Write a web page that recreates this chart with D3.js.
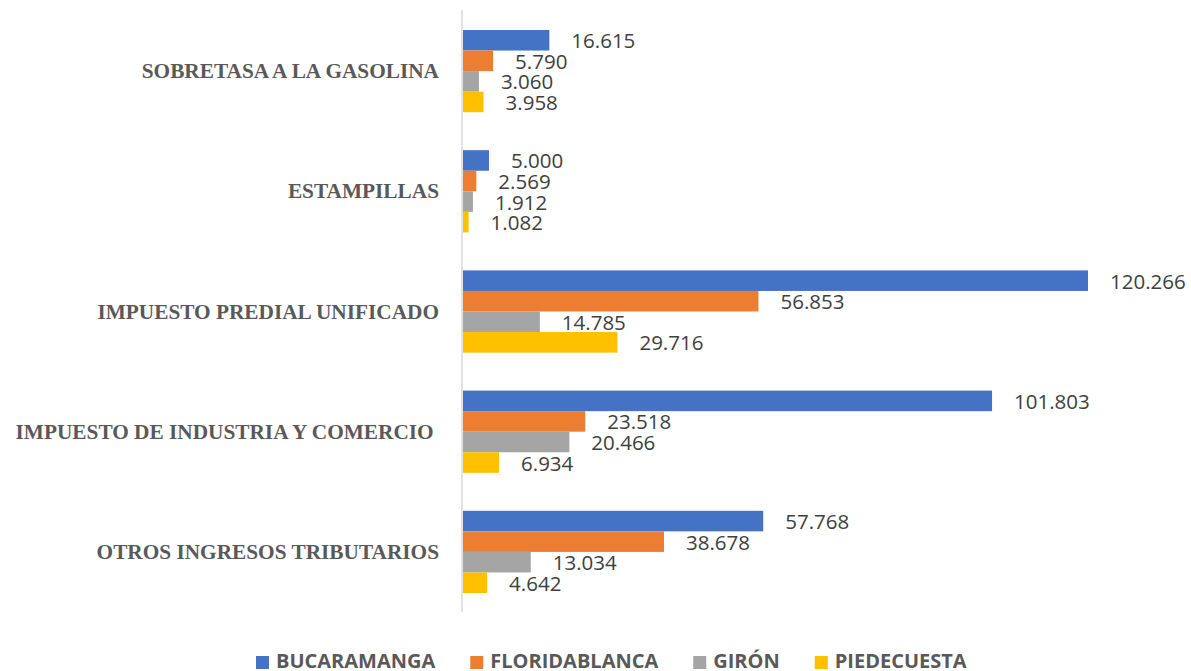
<!DOCTYPE html>
<html>
<head>
<meta charset="utf-8">
<script src="https://cdn.jsdelivr.net/npm/d3@7"></script>
<style>
  html, body { margin: 0; padding: 0; background: #ffffff; }
  svg { display: block; }
</style>
</head>
<body>
<svg id="chart" width="1191" height="671"></svg>
<script>
// ---- Data ----
const categories = [
  "SOBRETASA A LA GASOLINA",
  "ESTAMPILLAS",
  "IMPUESTO PREDIAL UNIFICADO",
  "IMPUESTO DE INDUSTRIA Y COMERCIO ",
  "OTROS INGRESOS TRIBUTARIOS"
];
const seriesNames = ["BUCARAMANGA", "FLORIDABLANCA", "GIRÓN", "PIEDECUESTA"];
const bucaramanga   = [16615, 5000, 120266, 101803, 57768];
const floridablanca = [5790, 2569, 56853, 23518, 38678];
const giron         = [3060, 1912, 14785, 20466, 13034];
const piedecuesta   = [3958, 1082, 29716, 6934, 4642];
const seriesValues = [bucaramanga, floridablanca, giron, piedecuesta];
const colors = ["#4472C4", "#ED7D31", "#A5A5A5", "#FFC000"];

// ---- Layout ----
const svg = d3.select("#chart");
const plotLeft = 463, plotTop = 11, plotBottom = 612;
const maxVal = d3.max(seriesValues.flat());

const x = d3.scaleLinear().domain([0, maxVal]).range([plotLeft, 1088]);
const y = d3.scaleBand().domain(categories).range([plotTop, plotBottom]).paddingInner(0.316).paddingOuter(0.158);
const ys = d3.scaleBand().domain(seriesNames).range([0, y.bandwidth()]);

const locale = d3.formatLocale({ decimal: ",", thousands: ".", grouping: [3], currency: ["$", ""] });
const fmt = locale.format(",d");

// ---- Bars ----
const groups = svg.selectAll("g.cat")
  .data(categories)
  .join("g")
  .attr("class", "cat")
  .attr("transform", d => `translate(0,${y(d)})`);

seriesNames.forEach((s, si) => {
  groups.append("rect")
    .attr("x", x(0))
    .attr("y", ys(s))
    .attr("width", (d, ci) => x(seriesValues[si][ci]) - x(0))
    .attr("height", ys.bandwidth())
    .attr("fill", colors[si]);

  groups.append("text")
    .attr("x", (d, ci) => x(seriesValues[si][ci]) + 22)
    .attr("y", ys(s) + ys.bandwidth() / 2 + 8)
    .attr("font-family", "'Open Sans', sans-serif")
    .attr("font-size", 20.5)
    .attr("fill", "#404040")
    .text((d, ci) => fmt(seriesValues[si][ci]));
});

// ---- Category labels ----
svg.append("g").selectAll("text")
  .data(categories)
  .join("text")
  .attr("x", 439)
  .attr("y", d => y(d) + y.bandwidth() / 2 + 7)
  .attr("text-anchor", "end")
  .style("white-space", "pre")
  .attr("font-family", "'Liberation Serif', 'Times New Roman', serif")
  .attr("font-weight", "bold")
  .attr("font-size", 21.3)
  .attr("fill", "#595959")
  .text(d => d);

// ---- Vertical axis line ----
svg.append("line")
  .attr("x1", x(0) - 1).attr("x2", x(0) - 1)
  .attr("y1", plotTop - 1).attr("y2", plotBottom)
  .attr("stroke", "#D9D9D9")
  .attr("stroke-width", 1.5);

// ---- Legend ----
const legend = svg.append("g");
let lx = 256;
const ly = 668;
seriesNames.forEach((s, i) => {
  legend.append("rect")
    .attr("x", lx).attr("y", ly - 12)
    .attr("width", 13).attr("height", 13)
    .attr("fill", colors[i]);
  const t = legend.append("text")
    .attr("x", lx + 20).attr("y", ly)
    .attr("font-family", "'Open Sans', sans-serif")
    .attr("font-weight", "bold")
    .attr("font-size", 20)
    .attr("fill", "#595959")
    .text(s);
  lx = lx + 20 + t.node().getComputedTextLength() + 35;
});
</script>
</body>
</html>
